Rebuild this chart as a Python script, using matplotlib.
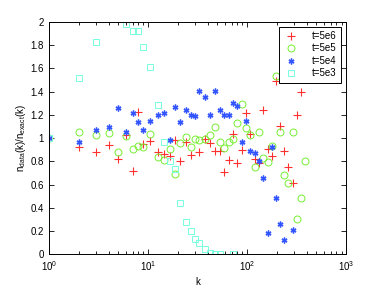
import matplotlib
matplotlib.use('Agg')
import matplotlib.pyplot as plt
import numpy as np

plt.rcParams['font.family'] = ['Liberation Sans', 'DejaVu Sans']
plt.rcParams['mathtext.fontset'] = 'custom'
plt.rcParams['mathtext.rm'] = 'Liberation Sans'

# t=5e6 (red +)
k_6 = [1, 2, 3, 4, 5, 6, 7, 8, 9, 10.6, 12.5, 14.5, 16.5, 18.6, 21, 24, 27, 33, 37.7,
       42.4, 47, 53, 59, 66, 72, 80, 89, 97.5, 108, 120, 133, 146, 161, 178, 196, 215,
       238, 262, 288, 317, 348]
y_6 = [1.0, 0.925, 0.88, 0.94, 0.816, 1.023, 0.72, 1.22, 0.946, 0.977, 0.877, 0.86,
       0.845, 0.983, 0.802, 0.965, 0.858, 0.878, 0.99, 0.958, 0.889, 0.889, 0.705, 0.81,
       1.034, 0.782, 0.897, 1.213, 1.032, 0.818, 0.782, 1.242, 0.91, 0.845, 1.493, 1.106,
       0.889, 0.748, 0.61, 1.198, 1.398]

# t=5e5 (green o)
k_5 = [1, 2, 3, 4, 5, 6, 7, 8, 9, 10.6, 12.5, 14.5, 16.5, 18.6, 21, 24, 27, 30, 33,
       37.7, 42.4, 47, 53, 59, 66, 72, 80, 89, 97.5, 108, 120, 133, 146, 161, 178, 196,
       215, 238, 262, 288, 317, 348, 385]
y_5 = [1.0, 1.054, 1.03, 1.04, 0.877, 1.017, 0.905, 0.93, 0.925, 1.037, 0.834, 0.808,
       0.908, 0.693, 0.955, 1.011, 0.925, 0.99, 0.98, 0.99, 1.03, 1.097, 0.968, 0.918,
       0.965, 0.988, 1.126, 1.292, 1.085, 1.03, 0.753, 1.048, 0.825, 0.797, 0.928, 1.537,
       1.049, 0.684, 0.616, 1.054, 0.303, 0.48, 0.805]

# t=5e4 (blue *)
k_4 = [1, 2, 3, 4, 5, 6, 7, 8, 9, 10.6, 12.5, 14.5, 16.5, 18.6, 21, 24, 27, 30, 33,
       37.7, 42.4, 47, 53, 59, 66, 72, 80, 89, 97.5, 108, 120, 133, 146, 161, 178, 196,
       215, 238, 288]
y_4 = [1.0, 0.968, 1.069, 1.097, 1.26, 1.05, 1.218, 1.135, 1.066, 1.146, 1.198, 1.218,
       0.98, 1.269, 1.135, 1.24, 1.195, 1.19, 1.404, 1.355, 1.2, 1.404, 1.245, 1.2, 1.2,
       1.304, 1.278, 0.963, 1.149, 0.892, 0.868, 0.8, 0.655, 0.183, 0.925, 0.487, 0.26,
       0.123, 0.206]

# t=5e3 (cyan squares)
k_3 = [1, 2, 3, 6, 7, 8, 9, 10.6, 12.5, 14.5, 16.5, 18.6, 21, 24, 27, 30, 33, 37.7,
       42.4, 47, 53, 72]
y_3 = [1.0, 1.516, 1.83, 1.98, 1.92, 1.92, 1.785, 1.61, 1.286, 0.97, 0.80, 0.73, 0.44,
       0.28, 0.20, 0.134, 0.095, 0.045, 0.014, 0.005, 0.0, 0.0]

ytick_vals = [0, 0.2, 0.4, 0.6, 0.8, 1, 1.2, 1.4, 1.6, 1.8, 2]
ytick_labels = ['0', '0.2', '0.4', '0.6', '0.8', '1', '1.2', '1.4', '1.6', '1.8', '2']

fig = plt.figure(figsize=(3.82, 2.87), dpi=100)
ax = fig.add_axes([0.128, 0.114, 0.778, 0.81])

ax.plot(k_6, y_6, '+', color='#ff3030', markersize=5.5, markeredgewidth=0.8, label='t=5e6')
ax.plot(k_5, y_5, 'o', color='#77ee33', markerfacecolor='none', markersize=5,
        markeredgewidth=0.7, label='t=5e5')
ax.plot(k_4, y_4, marker=(6, 2, 0), linestyle='none', color='#3355ff', markersize=4.2,
        markeredgewidth=1.0, label='t=5e4')
ax.plot(k_3, y_3, 's', color='#77ffdd', markerfacecolor='none', markersize=4.5,
        markeredgewidth=0.7, label='t=5e3')

ax.set_xscale('log')
ax.set_xlim(1, 1000)
ax.set_ylim(0, 2)
ax.set_yticks(ytick_vals)
ax.set_yticklabels(ytick_labels)
ax.tick_params(which='both', direction='in', top=True, right=True, labelsize=7, width=0.6)
ax.tick_params(which='major', length=3.5)
ax.tick_params(which='minor', length=2)
for s in ax.spines.values():
    s.set_linewidth(0.7)

ax.set_xlabel('k', fontsize=7, labelpad=3)
ax.set_ylabel(r'$\mathregular{n_{data}(k)/n_{exact}(k)}$', fontsize=7, labelpad=2)

leg = ax.legend(loc='upper right', fontsize=7, fancybox=False, edgecolor='black',
                handlelength=1.6, handletextpad=1.4, borderpad=0.45, labelspacing=0.25,
                borderaxespad=0.5, framealpha=1)
leg.get_frame().set_linewidth(0.7)

plt.savefig('out.png', dpi=100)
